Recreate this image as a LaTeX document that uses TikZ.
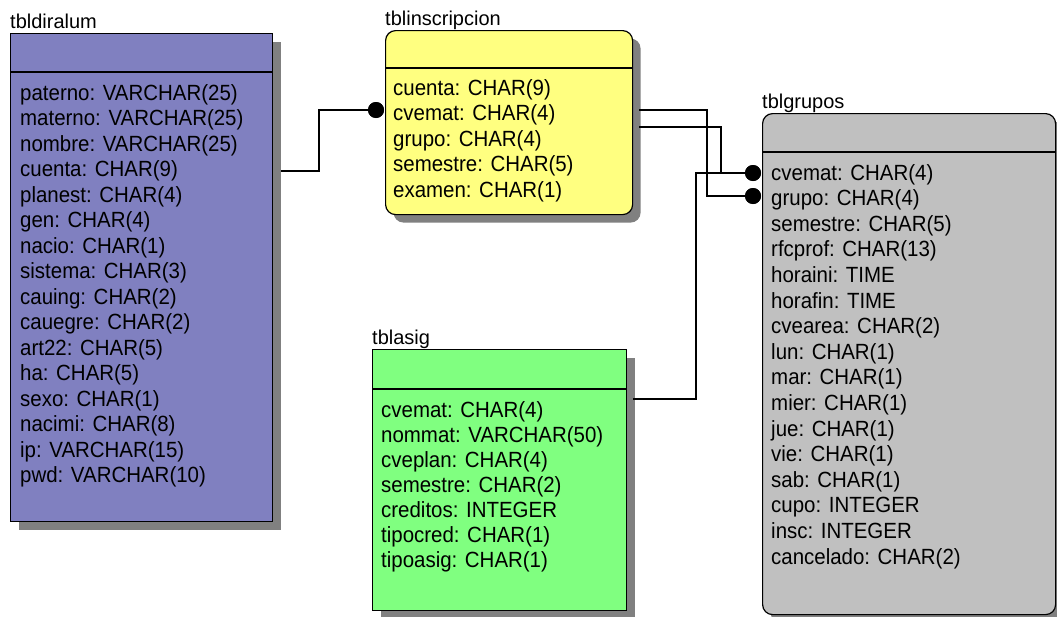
\documentclass[tikz,border=0pt]{standalone}
\usepackage{fontspec}
\setmainfont{Liberation Sans}
\newfontfamily\fieldfont{Liberation Sans}[FakeStretch=0.93]
\usetikzlibrary{shadows}
\definecolor{dircol}{HTML}{8080C0}
\definecolor{inscol}{HTML}{FFFF80}
\definecolor{asigcol}{HTML}{80FF80}
\definecolor{grpcol}{HTML}{C0C0C0}
\definecolor{shadowgray}{HTML}{808080}
\begin{document}
\begin{tikzpicture}[x=1pt,y=-1pt,
  tbl/.style={draw=black, line width=1.2pt, anchor=north west, inner sep=0pt,
    drop shadow={shadow xshift=8pt, shadow yshift=-8pt, fill=shadowgray, opacity=1}},
  roundtbl/.style={tbl, rounded corners=10pt},
  tbltitle/.style={anchor=base west, inner sep=0pt, font=\fontsize{20}{24}\selectfont},
  field/.style={anchor=base west, inner sep=0pt, font=\fieldfont\fontsize{22}{25}\selectfont},
  link/.style={draw=black, line width=1.2pt},
  dot/.style={circle, fill=black, minimum size=16pt, inner sep=0pt}]
\useasboundingbox (0,0) rectangle (1057,616);

% tables
\node[tbl, fill=dircol, minimum width=262pt, minimum height=488pt] (dir) at (10,33) {};
\node[roundtbl, fill=inscol, minimum width=247pt, minimum height=184pt] (ins) at (385,30) {};
\node[tbl, fill=asigcol, minimum width=254pt, minimum height=261pt] (asig) at (372,349) {};
\node[roundtbl, fill=grpcol, minimum width=293pt, minimum height=501pt] (grp) at (762,113) {};

% header dividers
\draw[line width=1.2pt] (dir.west |- 0,72) -- (dir.east |- 0,72);
\draw[line width=1.2pt] (ins.west |- 0,68) -- (ins.east |- 0,68);
\draw[line width=1.2pt] (asig.west |- 0,389) -- (asig.east |- 0,389);
\draw[line width=1.2pt] (grp.west |- 0,152) -- (grp.east |- 0,152);

% table names
\node[tbltitle] (dirname) at (10,28) {tbldiralum};
\node[tbltitle] (insname) at (385,25) {tblinscripcion};
\node[tbltitle] (asigname) at (372,344) {tblasig};
\node[tbltitle] (grpname) at (762,108) {tblgrupos};

% fields
\foreach \t [count=\i] in {paterno: VARCHAR(25), materno: VARCHAR(25), nombre: VARCHAR(25),
  cuenta: CHAR(9), planest: CHAR(4), gen: CHAR(4), nacio: CHAR(1), sistema: CHAR(3),
  cauing: CHAR(2), cauegre: CHAR(2), art22: CHAR(5), ha: CHAR(5), sexo: CHAR(1),
  nacimi: CHAR(8), ip: VARCHAR(15), pwd: VARCHAR(10)}
  \node[field] (dir-\i) at (20,{100+(\i-1)*25.5}) {\t};

\foreach \t [count=\i] in {cuenta: CHAR(9), cvemat: CHAR(4), grupo: CHAR(4),
  semestre: CHAR(5), examen: CHAR(1)}
  \node[field] (ins-\i) at (393,{95+(\i-1)*25.5}) {\t};

\foreach \t [count=\i] in {cvemat: CHAR(4), nommat: VARCHAR(50), cveplan: CHAR(4),
  semestre: CHAR(2), creditos: INTEGER, tipocred: CHAR(1), tipoasig: CHAR(1)}
  \node[field] (asig-\i) at (381,{417+(\i-1)*25.1}) {\t};

\foreach \t [count=\i] in {cvemat: CHAR(4), grupo: CHAR(4), semestre: CHAR(5),
  rfcprof: CHAR(13), horaini: TIME, horafin: TIME, cvearea: CHAR(2), lun: CHAR(1),
  mar: CHAR(1), mier: CHAR(1), jue: CHAR(1), vie: CHAR(1), sab: CHAR(1),
  cupo: INTEGER, insc: INTEGER, cancelado: CHAR(2)}
  \node[field] (grp-\i) at (771,{180+(\i-1)*25.6}) {\t};

% relationship ends
\node[dot] (insdot) at (376,110) {};
\node[dot] (grpdotA) at (753,173) {};
\node[dot] (grpdotB) at (753,196) {};
\coordinate (dirout) at (281,171);
\coordinate (insoutA) at (639,110);
\coordinate (insoutB) at (639,127);
\coordinate (asigout) at (633,399);

% connectors
\draw[link] (dirout) -- (319,171) -- (319,110) -- (insdot.center);
\draw[link] (insoutA) -- (707,110) -- (707,196) -- (grpdotB.center);
\draw[link] (insoutB) -- (721,127) -- (721,173) -- (grpdotA.center);
\draw[link] (asigout) -- (696,399) -- (696,173) -- (grpdotA.center);
\node[dot] at (insdot) {};
\node[dot] at (grpdotA) {};
\node[dot] at (grpdotB) {};
\end{tikzpicture}
\end{document}
